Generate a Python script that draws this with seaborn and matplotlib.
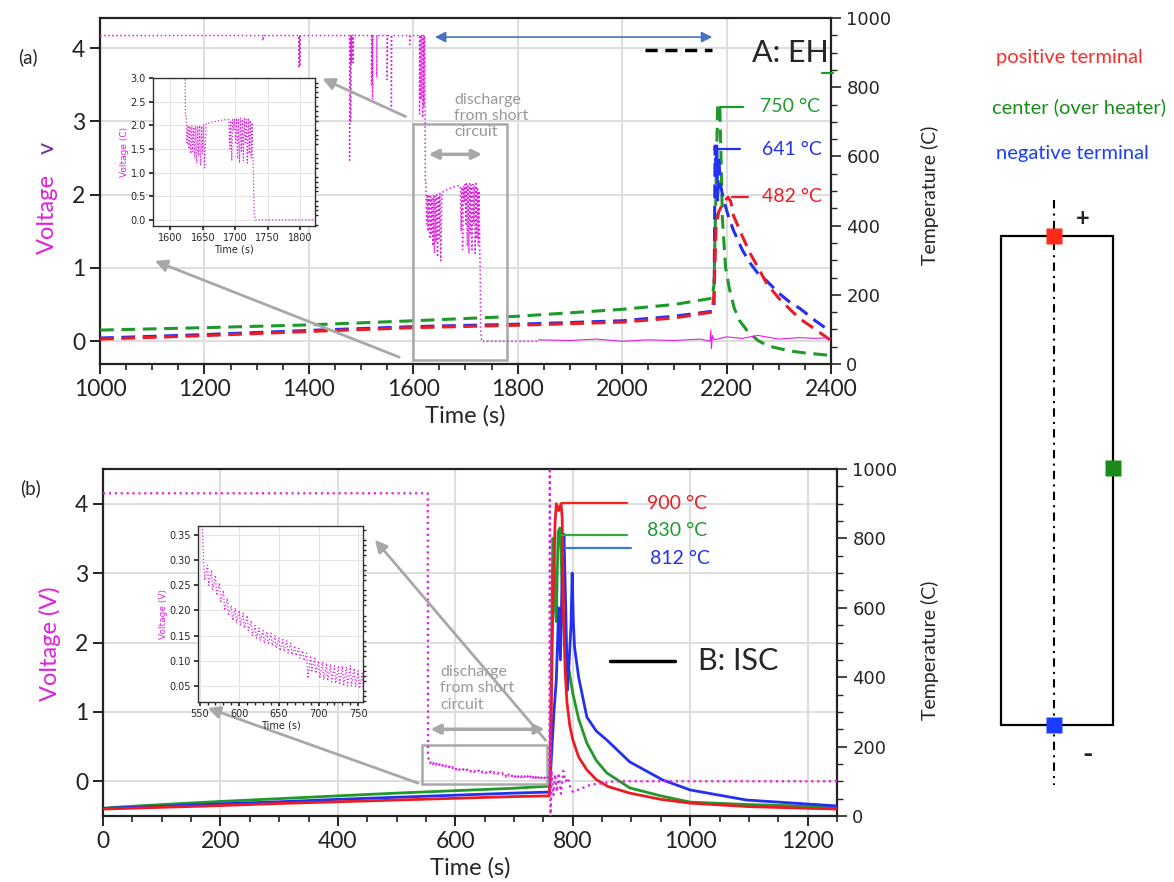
import numpy as np
import pandas as pd
import seaborn as sns
import matplotlib.pyplot as plt
from matplotlib.patches import Rectangle
from matplotlib.ticker import MultipleLocator

# ---------------- data ----------------
# (a) external heating: thermocouple traces (dashed)
ta_red = [1000, 1200, 1400, 1600, 1800, 2000, 2100, 2172, 2176, 2180, 2185, 2195, 2203,
          2208, 2213, 2230, 2245, 2260, 2277, 2300, 2320, 2341, 2370, 2398]
Ta_red = [72, 82, 94, 105, 112, 121, 133, 150, 200, 400, 440, 470, 482,
          470, 430, 370, 320, 280, 232, 190, 160, 130, 100, 70]
ta_green = [1000, 1200, 1400, 1600, 1800, 2000, 2100, 2172, 2176, 2183, 2187, 2192, 2198,
            2205, 2215, 2225, 2240, 2260, 2280, 2300, 2320, 2350, 2398]
Ta_green = [98, 105, 113, 125, 138, 158, 172, 190, 230, 750, 750, 420, 280,
            220, 160, 125, 95, 68, 52, 45, 38, 32, 25]
ta_blue = [1000, 1200, 1400, 1600, 1800, 2000, 2100, 2170, 2176, 2178, 2180, 2181, 2183,
           2185, 2188, 2195, 2205, 2213, 2230, 2245, 2260, 2277, 2300, 2320, 2341, 2370, 2398]
Ta_blue = [75, 85, 97, 108, 115, 125, 138, 152, 155, 630, 560, 641, 470,
           600, 520, 470, 420, 387, 330, 292, 262, 240, 205, 180, 160, 125, 95]

# (a) cell voltage: dips from 4.17 V before the short
va_dip_t = [1312, 1381, 1383, 1478, 1480, 1482, 1485, 1520, 1522, 1530, 1550, 1558, 1593,
            1612, 1615, 1618, 1620]
va_dip_v = [4.10, 3.75, 3.75, 2.47, 3.00, 3.80, 3.80, 3.50, 3.30, 3.60, 3.57, 3.16, 4.05,
            3.10, 3.30, 3.05, 3.20]
va_top = 4.17
# (a) discharge from short circuit (upper / lower envelope of the jitter)
va_s1_t = [1624, 1627, 1630, 1633, 1636, 1639, 1642, 1645, 1648, 1651]
va_s1_hi = [2.20, 2.00, 1.98, 2.00, 1.96, 2.00, 1.98, 2.00, 1.98, 2.02]
va_s1_lo = [1.60, 1.50, 1.40, 1.45, 1.30, 1.20, 1.35, 1.15, 1.40, 1.10]
va_mid_t = [1655, 1665, 1675, 1685]
va_mid_v = [2.03, 2.07, 2.10, 2.12]
va_s2_t = [1690, 1693, 1696, 1699, 1702, 1705, 1708, 1711, 1714, 1717, 1720, 1723, 1726]
va_s2_hi = [2.12, 2.10, 2.12, 2.14, 2.15, 2.12, 2.15, 2.13, 2.14, 2.12, 2.15, 2.10, 2.05]
va_s2_lo = [1.50, 1.25, 1.90, 1.60, 1.30, 1.20, 1.45, 1.25, 1.60, 1.20, 1.40, 1.30, 1.15]
va_end_t = [1728, 1729, 1731, 1840]
va_end_v = [1.00, 0.15, 0.00, 0.00]
va_late_t = [1840, 1900, 1950, 2000, 2050, 2100, 2150, 2168, 2170, 2171, 2173, 2176,
             2200, 2230, 2260, 2300, 2340, 2370, 2400]
va_late_v = [0.02, 0.01, 0.03, 0.00, 0.02, 0.01, 0.03, 0.00, 0.15, -0.10, 0.08, 0.02,
             0.06, 0.04, 0.08, 0.03, 0.05, 0.04, 0.05]

# (b) internal short circuit: thermocouple traces (solid)
tb_red = [0, 100, 200, 300, 400, 500, 600, 700, 760, 762, 766, 770, 772, 776, 780, 782,
          784, 787, 790, 795, 800, 810, 824, 840, 860, 897, 950, 1000, 1100, 1250]
Tb_red = [20, 25, 30, 36, 41, 46, 51, 56, 58, 150, 600, 850, 900, 880, 900, 860,
          600, 420, 330, 260, 220, 170, 133, 105, 85, 66, 48, 37, 27, 20]
tb_green = [0, 20, 100, 200, 300, 400, 500, 600, 700, 760, 762, 766, 768, 770, 772, 775,
            778, 780, 784, 790, 800, 810, 824, 840, 858, 880, 897, 950, 1000, 1100, 1250]
Tb_green = [22, 25, 33, 42, 50, 58, 66, 73, 80, 86, 200, 800, 780, 600, 560, 818,
            830, 760, 560, 458, 354, 280, 210, 160, 124, 100, 81, 58, 40, 33, 26]
tb_blue = [0, 100, 200, 300, 400, 500, 600, 700, 760, 763, 768, 772, 776, 779, 782, 785,
           788, 791, 794, 797, 799, 801, 803, 810, 824, 840, 858, 897, 953, 1000, 1096, 1250]
Tb_blue = [22, 28, 35, 41, 48, 54, 60, 66, 69, 150, 300, 392, 600, 450, 700, 812,
           600, 363, 450, 550, 700, 560, 487, 400, 285, 245, 219, 156, 104, 75, 46, 29]

# (b) cell voltage
vb_pre_t = [0, 553, 553.5]
vb_pre_v = [4.15, 4.15, 0.37]
vb_s_t = [555, 560, 565, 570, 575, 580, 585, 590, 595, 600, 605, 610, 615, 620, 625, 630,
          635, 640, 645, 650, 655, 660, 665, 670, 675, 680, 685, 690, 695, 700, 705, 710,
          715, 720, 725, 730, 735, 740, 745, 750, 755]
vb_s_hi = [0.30, 0.29, 0.28, 0.27, 0.255, 0.24, 0.225, 0.21, 0.205, 0.20, 0.195, 0.19,
           0.18, 0.17, 0.165, 0.16, 0.158, 0.155, 0.15, 0.145, 0.142, 0.14, 0.135, 0.13,
           0.125, 0.12, 0.115, 0.11, 0.105, 0.10, 0.098, 0.095, 0.093, 0.09, 0.09, 0.09,
           0.088, 0.09, 0.085, 0.08, 0.075]
vb_s_lo = [0.26, 0.25, 0.24, 0.23, 0.215, 0.20, 0.19, 0.18, 0.175, 0.17, 0.165, 0.16,
           0.15, 0.145, 0.14, 0.135, 0.132, 0.13, 0.125, 0.12, 0.118, 0.115, 0.112, 0.11,
           0.105, 0.10, 0.065, 0.08, 0.075, 0.065, 0.062, 0.06, 0.058, 0.055, 0.052, 0.05,
           0.05, 0.05, 0.048, 0.045, 0.045]
vb_post_t = [757, 760, 761, 762, 764, 767, 770, 773, 776, 780, 784, 788, 792, 796, 800,
             810, 830, 850, 870, 900, 1250]
vb_post_v = [0.05, 0.10, 4.60, -0.60, 0.15, -0.20, 0.10, -0.15, 0.12, -0.18, 0.15, 0.00,
             0.05, -0.10, -0.15, -0.12, -0.05, -0.03, 0.00, 0.00, 0.00]

MAG = "#e020e0"
RED = "#ec1c24"
GREEN = "#1f9a2a"
BLUE = "#2430ee"
GRAY = "#a8a8a8"
W, H = 1174, 882


def zigzag(ts, hi, lo):
    xs, ys = [], []
    for t, h, l in zip(ts, hi, lo):
        xs += [t, t + 1.5]
        ys += [h, l]
    return xs, ys


def dips(ts, lows, top):
    xs, ys = [], []
    for t, v in zip(ts, lows):
        xs += [t, t, t + 0.6]
        ys += [top, v, top]
    return xs, ys


def box(l, t, r, b):
    return [l / W, 1 - b / H, (r - l) / W, (b - t) / H]


# assemble voltage traces
d_x, d_y = dips(va_dip_t, va_dip_v, va_top)
z1x, z1y = zigzag(va_s1_t, va_s1_hi, va_s1_lo)
z2x, z2y = zigzag(va_s2_t, va_s2_hi, va_s2_lo)
va_t = [1000] + d_x + [1622, 1623] + z1x + va_mid_t + z2x + va_end_t
va_v = [va_top] + d_y + [va_top, 2.2] + z1y + va_mid_v + z2y + va_end_v
zbx, zby = zigzag(vb_s_t, vb_s_hi, vb_s_lo)
vb_t = vb_pre_t + zbx + vb_post_t
vb_v = vb_pre_v + zby + vb_post_v

sns.set_theme(style="white")
plt.rcParams["font.family"] = ["Lato", "DejaVu Sans"]

fig = plt.figure(figsize=(W / 100, H / 100), dpi=100)

# canvas for the schematic (pixel coords)
cv = fig.add_axes([0, 0, 1, 1])
cv.set_xlim(0, W)
cv.set_ylim(H, 0)
cv.axis("off")
cv.add_patch(Rectangle((1001, 236), 112, 489, fill=False, ec="black", lw=1.6))
cv.plot([1054, 1054], [200, 785], color="black", lw=1.5, ls=(0, (4, 2.5, 1, 2.5)))
cv.plot([1054], [236], marker="s", ms=11, color="#ff2a1a", mec="none")
cv.plot([1113], [468], marker="s", ms=11, color="#1a8c1a", mec="none")
cv.plot([1054], [725], marker="s", ms=11, color="#1a3cff", mec="none")
cv.text(1083, 218, "+", fontsize=17, ha="center", va="center", fontweight="bold")
cv.text(1088, 755, "-", fontsize=20, ha="center", va="center", fontweight="bold")
cv.text(996, 57, "positive terminal", color="#ff2a2a", fontsize=14.5, va="center")
cv.text(992, 107, "center (over heater)", color="#1a8c1a", fontsize=14.5, va="center")
cv.text(996, 153, "negative terminal", color="#1a3cff", fontsize=14.5, va="center")


def style_main(ax, axT, xmaj, xmin_):
    ax.grid(True, color="#dedede", lw=1.5)
    ax.set_axisbelow(True)
    for s in ax.spines.values():
        s.set_color("#222222")
        s.set_linewidth(1.6)
    ax.xaxis.set_major_locator(MultipleLocator(xmaj))
    ax.xaxis.set_minor_locator(MultipleLocator(xmin_))
    ax.yaxis.set_major_locator(MultipleLocator(1))
    ax.tick_params(axis="both", which="major", labelsize=16.5, length=7, width=1.4,
                   direction="out", colors="#222222", bottom=True, left=True)
    ax.tick_params(axis="x", which="minor", length=4, width=1.2, direction="out",
                   bottom=True, colors="#222222")
    ax.tick_params(axis="y", which="minor", left=False)
    axT.set_ylim(0, 1000)
    axT.yaxis.set_major_locator(MultipleLocator(200))
    axT.yaxis.set_minor_locator(MultipleLocator(50))
    axT.tick_params(axis="y", which="major", labelsize=13, length=7, width=1.2,
                    direction="out", right=True, pad=4)
    axT.tick_params(axis="y", which="minor", length=4, width=1.0, direction="out",
                    right=True)
    for lab in axT.get_yticklabels():
        lab.set_fontfamily("DejaVu Sans")
    axT.set_ylabel("")
    axT.grid(False)
    for s in axT.spines.values():
        s.set_visible(False)


def overlay(ax, rect):
    # transparent axes on top of the temperature axes, sharing the voltage scale
    ov = fig.add_axes(rect, sharex=ax, sharey=ax)
    ov.patch.set_visible(False)
    ov.axis("off")
    return ov


# ---------------- panel (a) ----------------
rect_a = box(100, 18, 831, 364)
ax_a = fig.add_axes(rect_a)
ax_aT = ax_a.twinx()
ov_a = overlay(ax_a, rect_a)
dash = (0, (4.5, 2.5))
for t, T, c in [(ta_green, Ta_green, GREEN), (ta_blue, Ta_blue, BLUE), (ta_red, Ta_red, RED)]:
    sns.lineplot(x=t, y=T, ax=ax_aT, color=c, lw=2.2, linestyle=dash,
                 estimator=None, sort=False)
sns.lineplot(x=va_t, y=va_v, ax=ov_a, color=MAG, lw=1.1, linestyle=":",
             estimator=None, sort=False)
sns.lineplot(x=va_late_t, y=va_late_v, ax=ov_a, color=MAG, lw=0.8,
             estimator=None, sort=False)
ax_a.set_xlim(1000, 2400)
ax_a.set_ylim(-0.31, 4.41)
style_main(ax_a, ax_aT, 200, 50)
ax_a.set_xlabel("Time (s)", fontsize=17, labelpad=4)
ax_a.set_ylabel("")

ov_a.add_patch(Rectangle((1600, -0.26), 180, 3.22, fill=False, ec=GRAY, lw=1.8))
ov_a.text(1678, 3.07, "discharge\nfrom short\ncircuit", color="#999999", fontsize=11.5,
          va="center", ha="left", linespacing=1.2)
ov_a.annotate("", xy=(1624, 2.55), xytext=(1737, 2.55),
              arrowprops=dict(arrowstyle="<|-|>", color=GRAY, lw=2.5, mutation_scale=14))
ov_a.annotate("", xy=(1636, 4.15), xytext=(2178, 4.15),
              arrowprops=dict(arrowstyle="<|-|>", color="#4472c4", lw=1.2, mutation_scale=16))
ov_a.annotate("", xy=(1421, 3.6), xytext=(1590, 3.05),
              arrowprops=dict(arrowstyle="-|>", color=GRAY, lw=2, mutation_scale=18))
ov_a.annotate("", xy=(1100, 1.11), xytext=(1578, -0.23),
              arrowprops=dict(arrowstyle="-|>", color=GRAY, lw=2, mutation_scale=18))
ov_a.plot([2044, 2172], [3.98, 3.98], color="black", lw=2.5, ls=(0, (3.5, 2.2)))
ov_a.text(2249, 3.93, "A: EH", fontsize=22, va="center", ha="left")
ax_aT.plot([2187, 2232], [743, 743], color=GREEN, lw=1.6)
ax_aT.text(2264, 743, "750 °C", color=GREEN, fontsize=14, va="center")
ax_aT.plot([2178, 2226], [620, 620], color=BLUE, lw=1.6)
ax_aT.text(2268, 620, "641 °C", color=BLUE, fontsize=14, va="center")
ax_aT.plot([2210, 2241], [483, 483], color=RED, lw=1.6)
ax_aT.text(2268, 483, "482 °C", color=RED, fontsize=14, va="center")
ax_aT.plot([2383, 2404], [841, 841], color=GREEN, lw=1.6, clip_on=False)

# inset (a)
ia = fig.add_axes(box(153, 78, 315, 226))
sns.lineplot(x=va_t, y=va_v, ax=ia, color=MAG, lw=0.9, linestyle=":",
             estimator=None, sort=False)
ia.set_xlim(1573, 1823)
ia.set_ylim(-0.13, 3.0)
ia.xaxis.set_major_locator(MultipleLocator(50))
ia.yaxis.set_major_locator(MultipleLocator(0.5))
ia.grid(True, color="#e4e4e4", lw=0.8)
ia.tick_params(labelsize=7, length=3, direction="out", bottom=True, left=True, pad=2)
ia.yaxis.set_minor_locator(MultipleLocator(0.1))
ia.tick_params(axis="y", which="minor", right=True, left=False, length=2)
ia.set_xlabel("Time (s)", fontsize=7, labelpad=1, family="DejaVu Sans")
ia.set_ylabel("Voltage (C)", fontsize=6.5, color=MAG, labelpad=1, family="DejaVu Sans")
ia.yaxis.set_major_formatter(plt.FormatStrFormatter("%.1f"))
for lab in ia.get_xticklabels() + ia.get_yticklabels():
    lab.set_fontfamily("DejaVu Sans")
for s in ia.spines.values():
    s.set_color("#333333")
    s.set_linewidth(1.0)

# ---------------- panel (b) ----------------
rect_b = box(103, 469, 837, 816)
ax_b = fig.add_axes(rect_b)
ax_bT = ax_b.twinx()
ov_b = overlay(ax_b, rect_b)
for t, T, c in [(tb_green, Tb_green, GREEN), (tb_blue, Tb_blue, BLUE), (tb_red, Tb_red, RED)]:
    sns.lineplot(x=t, y=T, ax=ax_bT, color=c, lw=2.0, estimator=None, sort=False)
sns.lineplot(x=vb_t, y=vb_v, ax=ov_b, color=MAG, lw=1.6, linestyle=":",
             estimator=None, sort=False)
ax_b.set_xlim(0, 1250)
ax_b.set_ylim(-0.5, 4.5)
style_main(ax_b, ax_bT, 200, 50)
ax_b.set_xlabel("Time (s)", fontsize=17, labelpad=4)
ax_b.set_ylabel("")

ov_b.add_patch(Rectangle((543, -0.04), 213, 0.57, fill=False, ec=GRAY, lw=1.8))
ov_b.text(574, 1.34, "discharge\nfrom short\ncircuit", color="#999999", fontsize=11.5,
          va="center", ha="left", linespacing=1.2)
ov_b.annotate("", xy=(553, 0.75), xytext=(757, 0.75),
              arrowprops=dict(arrowstyle="<|-|>", color=GRAY, lw=2.5, mutation_scale=14))
ov_b.annotate("", xy=(460, 3.51), xytext=(757, 0.56),
              arrowprops=dict(arrowstyle="-|>", color=GRAY, lw=2, mutation_scale=18))
ov_b.annotate("", xy=(174, 1.07), xytext=(541, -0.04),
              arrowprops=dict(arrowstyle="-|>", color=GRAY, lw=2, mutation_scale=18))
ov_b.plot([863, 974], [1.73, 1.73], color="black", lw=2.5)
ov_b.text(1013, 1.73, "B: ISC", fontsize=22, va="center", ha="left")
ax_bT.plot([781, 892], [902, 902], color="#ff2020", lw=1.6)
ax_bT.text(926, 902, "900 °C", color=RED, fontsize=14, va="center")
ax_bT.plot([781, 892], [810, 810], color="#35a845", lw=1.6)
ax_bT.text(926, 824, "830 °C", color=GREEN, fontsize=14, va="center")
ax_bT.plot([786, 900], [772, 772], color="#3a7bd5", lw=1.6)
ax_bT.text(931, 741, "812 °C", color=BLUE, fontsize=14, va="center")

# inset (b)
ib = fig.add_axes(box(198, 526, 363, 702))
sns.lineplot(x=vb_t, y=vb_v, ax=ib, color=MAG, lw=0.9, linestyle=":",
             estimator=None, sort=False)
ib.set_xlim(548, 756)
ib.set_ylim(0.018, 0.368)
ib.xaxis.set_major_locator(MultipleLocator(50))
ib.yaxis.set_major_locator(MultipleLocator(0.05))
ib.grid(True, color="#e4e4e4", lw=0.8)
ib.tick_params(labelsize=7, length=3, direction="out", bottom=True, left=True, pad=2)
ib.xaxis.set_minor_locator(MultipleLocator(10))
ib.yaxis.set_minor_locator(MultipleLocator(0.01))
ib.tick_params(axis="x", which="minor", bottom=True, length=2)
ib.tick_params(axis="y", which="minor", right=True, left=False, length=2)
ib.set_xlabel("Time (s)", fontsize=7, labelpad=1, family="DejaVu Sans")
ib.set_ylabel("Voltage (V)", fontsize=6.5, color=MAG, labelpad=1, family="DejaVu Sans")
ib.yaxis.set_major_formatter(plt.FormatStrFormatter("%.2f"))
for lab in ib.get_xticklabels() + ib.get_yticklabels():
    lab.set_fontfamily("DejaVu Sans")
for s in ib.spines.values():
    s.set_color("#333333")
    s.set_linewidth(1.0)

# ---------------- figure-level labels ----------------
fig.text(18 / W, 1 - 57 / H, "(a)", fontsize=13.5, va="center")
fig.text(20 / W, 1 - 488 / H, "(b)", fontsize=13.5, va="center")
fig.text(47 / W, 1 - 214 / H, "Voltage", color=MAG, fontsize=17, rotation=90,
         ha="center", va="center")
fig.text(47 / W, 1 - 148 / H, "v", color="#7030a0", fontsize=17, rotation=90,
         ha="center", va="center")
fig.text(50 / W, 1 - 644 / H, "Voltage (V)", color=MAG, fontsize=17, rotation=90,
         ha="center", va="center")
fig.text(930 / W, 1 - 195 / H, "Temperature (C)", fontsize=14, rotation=90,
         ha="center", va="center")
fig.text(930 / W, 1 - 650 / H, "Temperature (C)", fontsize=14, rotation=90,
         ha="center", va="center")

fig.savefig("out.png", dpi=100)
